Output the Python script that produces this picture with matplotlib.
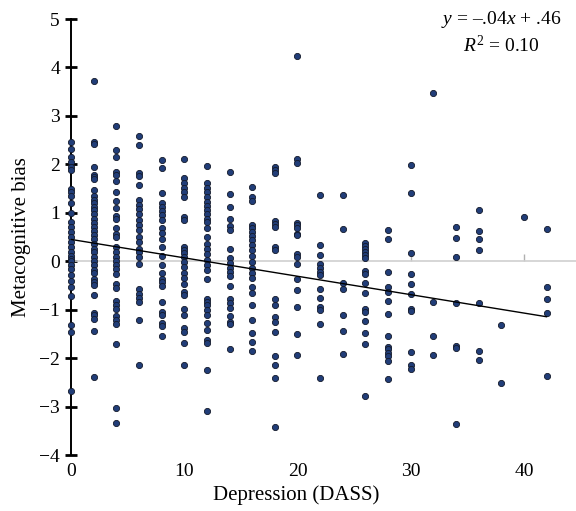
import numpy as np
import matplotlib
matplotlib.use("Agg")
import matplotlib.pyplot as plt

plt.rcParams['font.family'] = ['Liberation Serif', 'DejaVu Serif']
plt.rcParams['mathtext.fontset'] = 'custom'
plt.rcParams['mathtext.rm'] = 'Liberation Serif'
plt.rcParams['mathtext.it'] = 'Liberation Serif:italic'

# ---- data: metacognitive bias by depression score (DASS) ----
dass_scores = [0, 2, 4, 6, 8, 10, 12, 14, 16, 18, 20, 22, 24, 26, 28, 30, 32, 34, 36, 38, 40, 42]
bias_by_score = {
    0: [2.47, 2.31, 2.15, 2.05, 1.95, 1.88, 1.5, 1.43, 1.35, 1.2, 1.0, 0.8, 0.7, 0.6, 0.5, 0.4,
        0.3, 0.2, 0.1, 0.05, 0.0, -0.08, -0.17, -0.29, -0.41, -0.53, -0.72, -1.32, -1.46, -2.67],
    2: [3.72, 2.46, 2.43, 1.94, 1.79, 1.73, 1.70, 1.48, 1.34, 1.27, 1.2, 1.12, 1.05, 0.97, 0.88,
        0.79, 0.71, 0.63, 0.54, 0.45, 0.36, 0.26, 0.19, 0.09, 0.0, -0.08, -0.19, -0.25, -0.36,
        -0.43, -0.5, -0.7, -1.07, -1.12, -1.2, -1.45, -2.38],
    4: [2.79, 2.29, 2.15, 1.84, 1.77, 1.66, 1.43, 1.24, 1.09, 0.93, 0.88, 0.69, 0.57, 0.5, 0.3,
        0.19, 0.09, 0.0, -0.08, -0.17, -0.27, -0.48, -0.56, -0.82, -0.9, -0.98, -1.14, -1.22,
        -1.29, -1.7, -3.03, -3.33],
    6: [2.58, 2.39, 1.82, 1.76, 1.57, 1.26, 1.17, 1.07, 0.97, 0.85, 0.74, 0.64, 0.5, 0.4, 0.26,
        0.19, 0.09, -0.05, -0.58, -0.67, -0.76, -0.84, -1.22, -2.15],
    8: [2.08, 1.92, 1.40, 1.2, 1.12, 1.03, 0.95, 0.85, 0.69, 0.58, 0.45, 0.3, 0.11, -0.07, -0.25,
        -0.36, -0.43, -0.52, -0.84, -1.05, -1.1, -1.28, -1.34, -1.55],
    10: [2.10, 1.71, 1.61, 1.52, 1.43, 1.32, 0.92, 0.86, 0.30, 0.23, 0.16, 0.08, -0.01, -0.12,
         -0.25, -0.34, -0.48, -0.63, -0.70, -0.98, -1.1, -1.37, -1.46, -1.69, -2.15],
    12: [1.96, 1.61, 1.52, 1.43, 1.33, 1.23, 1.14, 1.05, 0.97, 0.88, 0.81, 0.68, 0.49, 0.35, 0.25,
         0.14, 0.02, -0.08, -0.19, -0.36, -0.77, -0.84, -0.91, -1.0, -1.12, -1.27, -1.43, -1.62,
         -1.69, -2.25, -3.09],
    14: [1.85, 1.38, 1.11, 0.88, 0.72, 0.65, 0.26, 0.06, -0.03, -0.13, -0.22, -0.31, -0.52, -0.79,
         -0.87, -0.96, -1.14, -1.25, -1.3, -1.82],
    16: [1.54, 1.32, 1.25, 0.74, 0.68, 0.61, 0.52, 0.43, 0.33, 0.24, 0.10, -0.01, -0.13, -0.24,
         -0.34, -0.54, -0.65, -0.9, -1.22, -1.48, -1.67, -1.86],
    18: [1.94, 1.88, 1.82, 0.83, 0.76, 0.70, 0.30, 0.23, -0.77, -0.9, -1.15, -1.25, -1.46, -1.96,
         -2.15, -2.42, -3.42],
    20: [4.24, 2.12, 2.03, 0.79, 0.74, 0.68, 0.57, 0.54, 0.14, 0.09, -0.05, -0.37, -0.6, -0.94,
         -1.51, -1.94],
    22: [1.36, 0.33, 0.12, -0.06, -0.15, -0.22, -0.29, -0.58, -0.76, -0.94, -1.01, -1.3, -2.41],
    24: [1.36, 0.67, -0.44, -0.58, -1.12, -1.44, -1.91],
    26: [0.37, 0.32, 0.26, 0.19, 0.12, 0.07, -0.2, -0.27, -0.44, -0.65, -0.98, -1.05, -1.23,
         -1.49, -1.71, -2.78],
    28: [0.64, 0.45, -0.22, -0.53, -0.63, -0.82, -1.08, -1.54, -1.77, -1.82, -1.89, -1.96, -2.05,
         -2.44],
    30: [1.98, 1.40, 0.16, -0.27, -0.48, -0.68, -0.98, -1.03, -1.87, -2.15, -2.22],
    32: [3.48, -0.85, -1.54, -1.94],
    34: [0.70, 0.47, 0.09, -0.86, -1.76, -1.79, -3.37],
    36: [1.05, 0.62, 0.45, 0.24, -0.87, -1.85, -2.03],
    38: [-1.32, -2.51],
    40: [0.92],
    42: [0.66, -0.53, -0.79, -1.06, -2.37],
}
trend_slope = -0.038
trend_intercept = 0.45
equation_text = r"$y$ = –.04$x$ + .46"
r2_text = r"$R^{2}$ = 0.10"
x_ticks = [0, 10, 20, 30, 40]
y_ticks = [-4, -3, -2, -1, 0, 1, 2, 3, 4, 5]
y_ticklabels = ["−4", "−3", "−2", "−1", "0", "1", "2", "3", "4", "5"]

xs = np.concatenate([[s] * len(bias_by_score[s]) for s in dass_scores])
ys = np.concatenate([bias_by_score[s] for s in dass_scores])

fig = plt.figure(figsize=(5.76, 5.11), dpi=100)
ax = fig.add_axes([71 / 576, 1 - 455 / 511, 1 - 71 / 576, (455 - 19) / 511])
ax.set_xlim(0, 44.6)
ax.set_ylim(-4, 5)

ax.scatter(xs, ys, s=20, facecolor='#213d78', edgecolor='#141a2a', linewidth=0.6,
           zorder=3, clip_on=False)

xl = np.array([min(dass_scores), max(dass_scores)])
ax.plot(xl, trend_intercept + trend_slope * xl, color='black', lw=1.0, zorder=4)

# spines
for side in ['top', 'right']:
    ax.spines[side].set_visible(False)
ax.spines['left'].set_linewidth(1.4)
ax.spines['left'].set_zorder(2)
ax.spines['bottom'].set_position(('data', 0))
ax.spines['bottom'].set_color('#cfcfcf')
ax.spines['bottom'].set_linewidth(1.2)

ax.set_yticks(y_ticks)
ax.set_yticklabels(y_ticklabels)
ax.tick_params(axis='y', direction='inout', length=8, width=2.0, labelsize=14, pad=4)

ax.set_xticks(x_ticks)
ax.tick_params(axis='x', direction='in', length=5, width=1.0, color='#b0b0b0',
               labelbottom=False)

sec = ax.secondary_xaxis(location=0.0)
sec.set_xticks(x_ticks)
sec.tick_params(length=0, labelsize=14, pad=6)
sec.spines['bottom'].set_visible(False)

ax.set_ylabel("Metacognitive bias", fontsize=15, labelpad=6)
fig.text(296 / 576, 1 - 495 / 511, "Depression (DASS)", fontsize=15, ha='center', va='center')

fig.text(501 / 576, 1 - 20 / 511, equation_text, fontsize=14, ha='center', va='center')
fig.text(501 / 576, 1 - 45 / 511, r2_text, fontsize=14, ha='center', va='center')

fig.savefig("out.png", dpi=100)
